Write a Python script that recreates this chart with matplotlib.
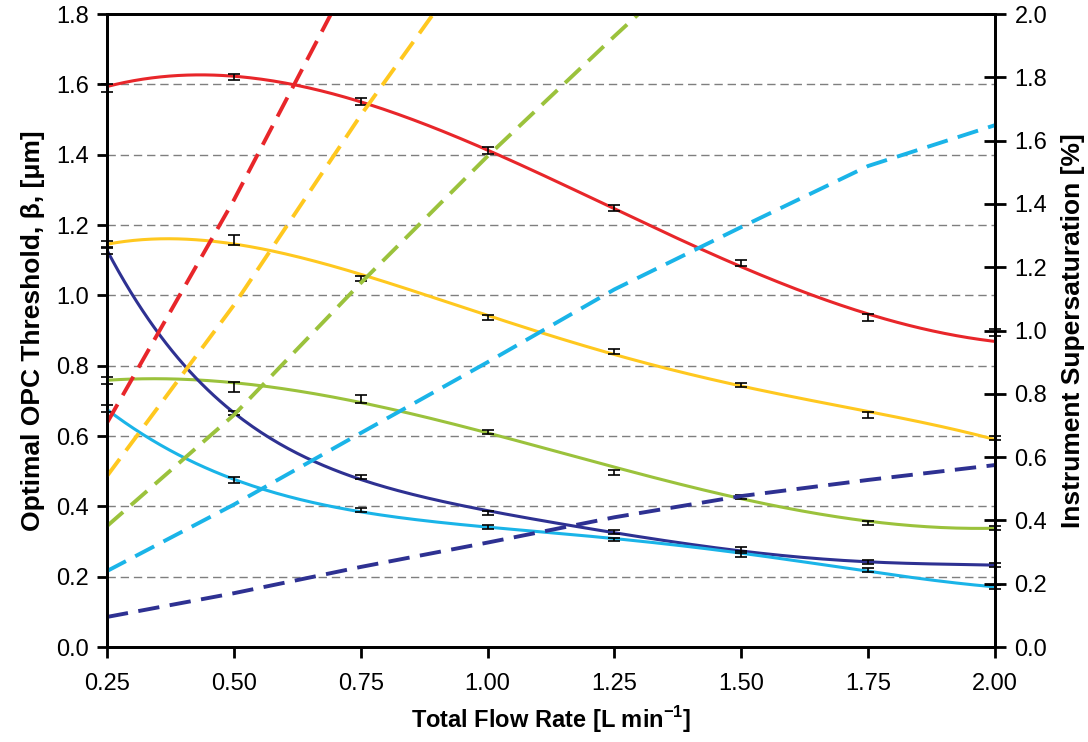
import matplotlib
matplotlib.use("Agg")
import matplotlib.pyplot as plt
import numpy as np

plt.rcParams['font.family'] = ['Liberation Sans', 'DejaVu Sans']
plt.rcParams['mathtext.fontset'] = 'custom'
plt.rcParams['mathtext.bf'] = 'Liberation Sans:bold'
plt.rcParams['mathtext.rm'] = 'Liberation Sans'

# flow rates [L/min]
flow = [0.25, 0.50, 0.75, 1.00, 1.25, 1.50, 1.75, 2.00]

# optimal OPC threshold (left axis): measured points + error
thr_red = [1.59, 1.621, 1.552, 1.411, 1.248, 1.092, 0.938, 0.895]
thr_yellow = [1.146, 1.157, 1.048, 0.937, 0.840, 0.745, 0.660, 0.594]
thr_green = [0.759, 0.739, 0.705, 0.612, 0.496, 0.427, 0.353, 0.338]
thr_navy = [1.129, 0.665, 0.483, 0.382, 0.327, 0.276, 0.242, 0.233]
thr_cyan = [0.677, 0.475, 0.390, 0.342, 0.305, 0.264, 0.219, 0.170]
err_red = [0.012, 0.008, 0.010, 0.010, 0.008, 0.008, 0.010, 0.010]
err_yellow = [0.010, 0.015, 0.008, 0.008, 0.008, 0.006, 0.008, 0.006]
err_green = [0.010, 0.015, 0.012, 0.006, 0.008, 0.006, 0.006, 0.006]
err_navy = [0.010, 0.006, 0.006, 0.006, 0.006, 0.008, 0.006, 0.006]
err_cyan = [0.010, 0.008, 0.006, 0.006, 0.004, 0.008, 0.006, 0.006]

# trendline values
trend_red = [1.593, 1.626, 1.55, 1.41, 1.245, 1.09, 0.94, 0.871]
trend_yellow = [1.143, 1.155, 1.052, 0.94, 0.838, 0.745, 0.664, 0.592]
trend_green = [0.759, 0.75, 0.698, 0.608, 0.51, 0.424, 0.357, 0.338]
trend_navy = [1.129, 0.665, 0.48, 0.384, 0.327, 0.273, 0.242, 0.233]
trend_cyan = [0.677, 0.472, 0.39, 0.341, 0.307, 0.264, 0.219, 0.17]
trend_deg = [4, 4, 4, 5, 4]

# instrument supersaturation (right axis) [%]
ss_red = [0.708, 1.412, 2.18, 2.9, 3.6, 4.3, 5.0, 5.7]
ss_yellow = [0.54, 1.08, 1.68, 2.24, 2.8, 3.35, 3.9, 4.45]
ss_green = [0.382, 0.733, 1.15, 1.551, 1.93, 2.3, 2.65, 3.0]
ss_cyan = [0.24, 0.45, 0.676, 0.90, 1.13, 1.327, 1.52, 1.649]
ss_navy = [0.095, 0.17, 0.253, 0.33, 0.41, 0.477, 0.528, 0.575]

colors = ['#E8262A', '#FFC81F', '#9BC23C', '#1AB4E8', '#2E3192']
thr_all = [thr_red, thr_yellow, thr_green, thr_navy, thr_cyan]
err_all = [err_red, err_yellow, err_green, err_navy, err_cyan]
trend_all = [trend_red, trend_yellow, trend_green, trend_navy, trend_cyan]
thr_cols = [colors[0], colors[1], colors[2], colors[4], colors[3]]
ss_all = [ss_red, ss_yellow, ss_green, ss_cyan, ss_navy]
ss_cols = [colors[0], colors[1], colors[2], colors[3], colors[4]]

fig = plt.figure(figsize=(10.88, 7.42), dpi=100)
ax = fig.add_axes([0.0983, 0.128, 0.8162, 0.853])
ax2 = ax.twinx()

x = np.array(flow)
xs = np.linspace(0.25, 2.0, 300)

# polynomial trendlines + measured points with error bars
for y, t, e, c, d in zip(thr_all, trend_all, err_all, thr_cols, trend_deg):
    p = np.polyfit(x, t, d)
    ax.plot(xs, np.polyval(p, xs), color=c, lw=2.2, zorder=3, solid_capstyle='butt')
    ax.errorbar(x, y, yerr=e, fmt='none', ecolor='black', elinewidth=1.2,
                capsize=4, capthick=1.2, zorder=4, clip_on=False)

for y, c in zip(ss_all, ss_cols):
    ax2.plot(x, y, color=c, lw=2.8, dashes=(5.5, 2.7), zorder=2)

ax.set_xlim(0.25, 2.0)
ax.set_ylim(0, 1.8)
ax2.set_ylim(0, 2.0)
ax.set_xticks(flow)
ax.set_xticklabels(['%.2f' % v for v in flow])
ax.set_yticks(np.arange(0, 1.81, 0.2))
ax.set_yticklabels(['%.1f' % v for v in np.arange(0, 1.81, 0.2)])
ax2.set_yticks(np.arange(0, 2.01, 0.2))
ax2.set_yticklabels(['%.1f' % v for v in np.arange(0, 2.01, 0.2)])

for yv in np.arange(0.2, 1.7, 0.2):
    ax.axhline(yv, color='#7f7f7f', lw=1.0, dashes=(6, 3.5), zorder=1)

for a in (ax, ax2):
    for s in a.spines.values():
        s.set_linewidth(2.0)
ax.tick_params(axis='y', direction='out', length=7, width=2.0, labelsize=17, pad=6)
ax.tick_params(axis='x', direction='out', length=8, width=2.0, labelsize=17, pad=11)
ax2.tick_params(axis='y', direction='inout', length=16, width=2.0, labelsize=17, pad=6)

ax.set_xlabel(r'Total Flow Rate [L min$^{\mathbf{-1}}$]', fontsize=17, fontweight='bold', labelpad=6)
ax.set_ylabel('Optimal OPC Threshold, β, [μm]', fontsize=19, fontweight='bold', labelpad=8)
ax2.set_ylabel('Instrument Supersaturation [%]', fontsize=19, fontweight='bold', labelpad=10)

fig.savefig('out.png', dpi=100)
